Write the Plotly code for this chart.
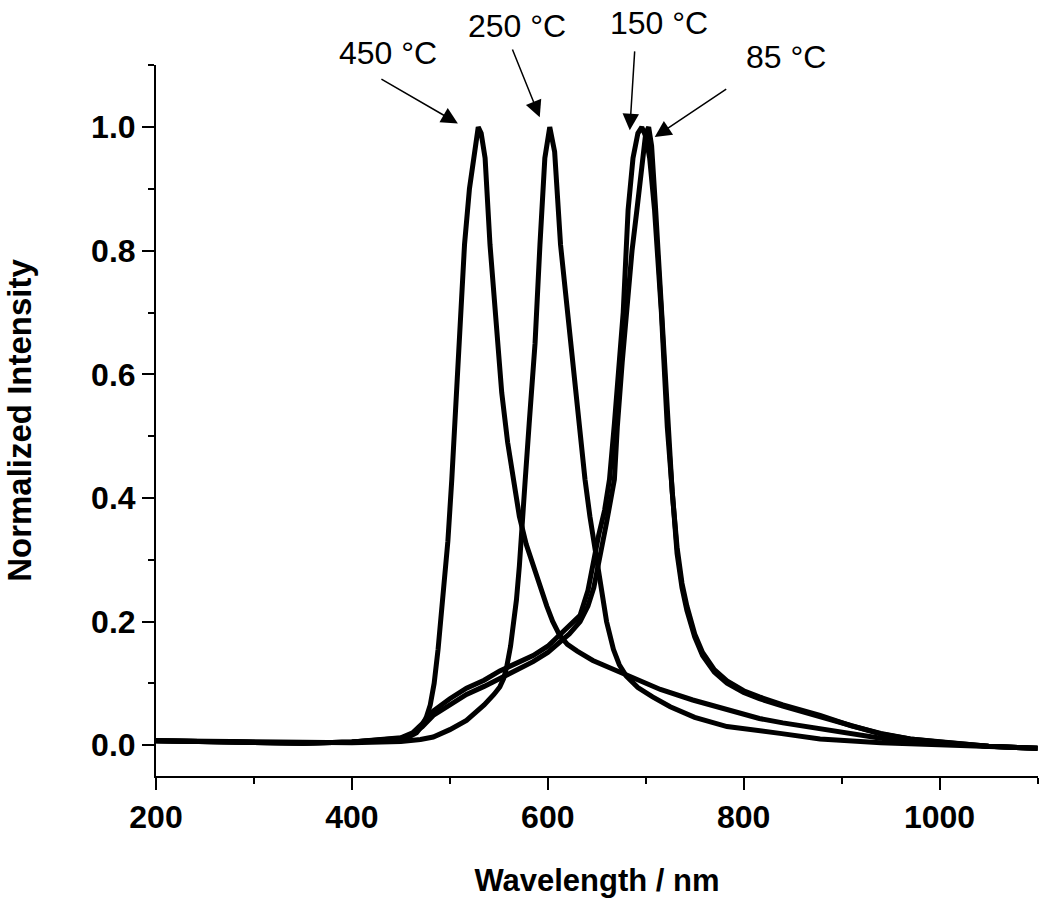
import plotly.graph_objects as go

# ---- data ----
wl450 = [200,250,300,350,400,430,450,460,466,471,476,480,484,488,493,498,502,506,509,512,515,520,525,529,532,536,541,548,553,559,566,571,578,585,592,599,605,612,620,630,646,665,687,715,748,780,816,840,878,910,940,970,1000,1050,1100]
I450 = [0.007,0.006,0.004,0.003,0.005,0.007,0.01,0.015,0.02,0.03,0.045,0.065,0.1,0.155,0.235,0.33,0.43,0.54,0.65,0.73,0.81,0.9,0.96,1.0,0.99,0.95,0.81,0.66,0.57,0.49,0.42,0.37,0.325,0.29,0.255,0.225,0.2,0.178,0.163,0.152,0.137,0.124,0.11,0.09,0.073,0.058,0.043,0.036,0.027,0.018,0.011,0.006,0.003,-0.002,-0.005]

wl250 = [200,250,300,350,400,450,470,483,500,517,535,545,551,555,558,562,565,568,571,574,577,581,587,592,597,602,607,613,618,624,629,634,638,643,648,653,660,667,673,680,692,707,725,750,783,837,878,940,1000,1050,1100]
I250 = [0.007,0.006,0.004,0.003,0.004,0.006,0.009,0.013,0.025,0.04,0.065,0.082,0.094,0.108,0.126,0.16,0.195,0.235,0.29,0.35,0.43,0.52,0.65,0.81,0.95,1.0,0.96,0.81,0.73,0.65,0.57,0.49,0.43,0.37,0.32,0.267,0.2,0.155,0.13,0.112,0.093,0.078,0.062,0.045,0.03,0.019,0.01,0.004,0.0,-0.003,-0.005]

wl150 = [200,250,300,350,400,430,450,462,472,483,500,517,535,551,568,585,600,612,622,633,641,647,652,658,663,668,673,677,682,687,692,696,700,704,709,716,722,727,732,737,742,750,758,770,783,800,816,840,878,910,940,970,1000,1050,1100]
I150 = [0.007,0.006,0.004,0.003,0.005,0.008,0.012,0.02,0.035,0.055,0.075,0.092,0.105,0.12,0.133,0.145,0.16,0.178,0.192,0.21,0.25,0.3,0.34,0.38,0.43,0.52,0.62,0.7,0.866,0.95,0.99,1.0,0.985,0.95,0.866,0.7,0.515,0.4,0.31,0.255,0.218,0.175,0.145,0.118,0.1,0.085,0.075,0.063,0.046,0.03,0.018,0.01,0.005,-0.002,-0.005]

wl85 = [200,250,300,350,400,430,450,462,472,483,500,517,535,551,568,585,600,612,622,633,641,647,653,660,668,671,676,680,686,691,696,700,703,706,710,716,722,727,732,737,742,750,758,770,783,800,816,840,878,910,940,970,1000,1050,1100]
I85 = [0.007,0.006,0.004,0.003,0.005,0.008,0.011,0.018,0.03,0.048,0.066,0.082,0.095,0.108,0.122,0.135,0.15,0.165,0.18,0.2,0.225,0.255,0.3,0.36,0.43,0.515,0.62,0.7,0.8,0.866,0.94,0.99,1.0,0.97,0.87,0.71,0.53,0.41,0.32,0.262,0.225,0.18,0.15,0.122,0.104,0.088,0.078,0.065,0.048,0.031,0.019,0.01,0.005,-0.002,-0.005]

series = [("450 °C", wl450, I450), ("250 °C", wl250, I250),
          ("150 °C", wl150, I150), ("85 °C", wl85, I85)]

# label text positions (paper fraction) and arrows (start -> tip, data coordinates)
labels = ["450 °C", "250 °C", "150 °C", "85 °C"]
label_px = [0.263, 0.409, 0.570, 0.714]
label_py = [1.017, 1.055, 1.059, 1.011]
arrow_from_x = [428.6, 563.3, 688.8, 783.7]
arrow_from_y = [1.079, 1.128, 1.125, 1.063]
arrow_to_x = [508.2, 591.8, 683.7, 709.2]
arrow_to_y = [1.006, 1.016, 0.995, 0.984]

FONT = "Liberation Sans, Arial, sans-serif"

fig = go.Figure()
for name, x, y in series:
    fig.add_trace(go.Scatter(x=x, y=y, mode="lines", name=name,
                             line=dict(color="black", width=5)))

for i in range(len(labels)):
    fig.add_annotation(x=label_px[i], y=label_py[i], text=labels[i], showarrow=False,
                       xref="paper", yref="paper", xanchor="center", yanchor="middle",
                       borderpad=0,
                       font=dict(family=FONT, size=32, color="black"))
    fig.add_annotation(x=arrow_to_x[i], y=arrow_to_y[i], ax=arrow_from_x[i], ay=arrow_from_y[i],
                       xref="x", yref="y", axref="x", ayref="y", text="", showarrow=True,
                       arrowhead=2, arrowsize=2.2, arrowwidth=1.5, arrowcolor="black", standoff=0)

axis_common = dict(showline=True, linewidth=2, linecolor="black", mirror=False,
                   ticks="outside", ticklen=12, tickwidth=2, tickcolor="black",
                   showgrid=False, zeroline=False, automargin=False,
                   tickfont=dict(family=FONT, size=32, color="black", weight="bold"))

fig.update_xaxes(range=[200, 1100.5], tick0=200, dtick=200,
                 minor=dict(tick0=200, dtick=100, ticks="outside", ticklen=6, tickwidth=2,
                            tickcolor="black", showgrid=False),
                 title=dict(text="Wavelength / nm", standoff=35,
                            font=dict(family=FONT, size=31, color="black", weight="bold")),
                 **axis_common)
fig.update_yaxes(range=[-0.05, 1.1005], tick0=0, dtick=0.2, tickformat=".1f",
                 minor=dict(tick0=0, dtick=0.1, ticks="outside", ticklen=6, tickwidth=2,
                            tickcolor="black", showgrid=False),
                 title=dict(text="Normalized Intensity", standoff=50,
                            font=dict(family=FONT, size=33, color="black", weight="bold")),
                 **axis_common)

fig.update_layout(width=1050, height=906, margin=dict(l=156, r=12, t=65, b=130),
                  plot_bgcolor="white", paper_bgcolor="white", showlegend=False,
                  font=dict(family=FONT, color="black"))

# remove the default 8px page margin so the figure fills the window exactly
fig.write_html("out.html", config={"displayModeBar": False},
               post_script="document.body.style.margin='0';document.body.style.overflow='hidden';")
